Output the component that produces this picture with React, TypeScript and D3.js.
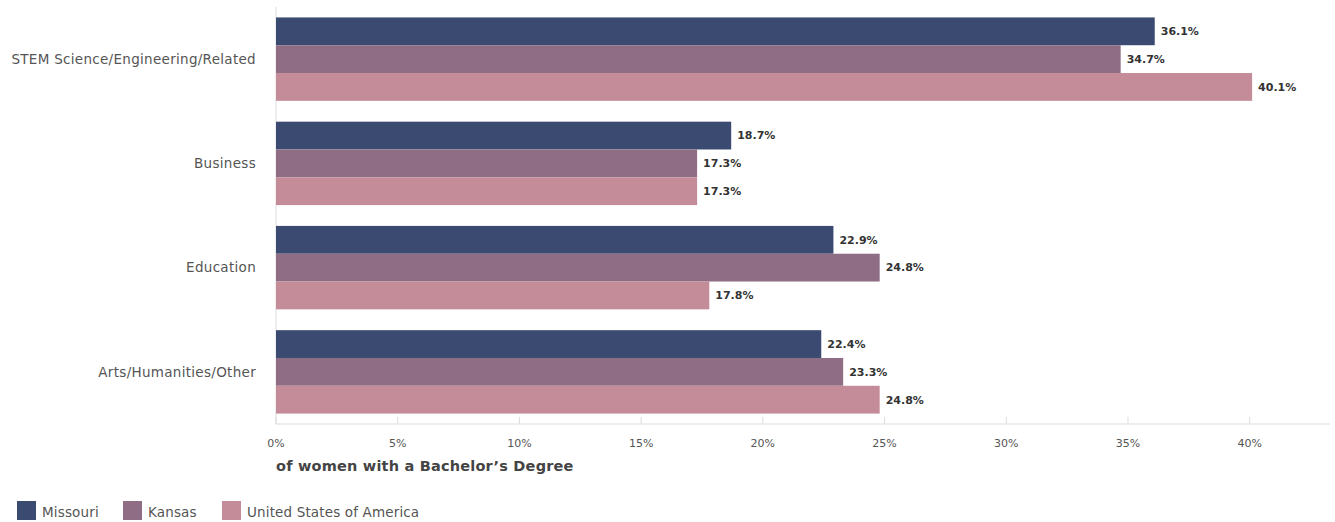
import React, { useEffect, useRef } from "react";
import * as d3 from "d3";

const categories = [
  "STEM Science/Engineering/Related",
  "Business",
  "Education",
  "Arts/Humanities/Other",
];
const seriesNames = ["Missouri", "Kansas", "United States of America"];
const missouri = [36.1, 18.7, 22.9, 22.4];
const kansas = [34.7, 17.3, 24.8, 23.3];
const usa = [40.1, 17.3, 17.8, 24.8];
const xTicks = [0, 5, 10, 15, 20, 25, 30, 35, 40];
const colors = ["#3a4a70", "#8f6d85", "#c48c98"];

const FONT = "'DejaVu Sans', 'Noto Sans', sans-serif";

const App: React.FC = () => {
  const svgRef = useRef<SVGSVGElement>(null);

  useEffect(() => {
    if (!svgRef.current) return;
    const svg = d3.select(svgRef.current);
    svg.selectAll("*").remove();

    const left = 276;
    const right = 1330;
    const top = 7;
    const bottom = 424;

    const x = d3.scaleLinear().domain([0, 43.3]).range([left, right]);
    const y0 = d3
      .scaleBand<string>()
      .domain(categories)
      .range([top, bottom])
      .paddingInner(0.2)
      .paddingOuter(0.1);
    const y1 = d3
      .scaleBand<string>()
      .domain(seriesNames)
      .range([0, y0.bandwidth()]);

    const values = [missouri, kansas, usa];

    // vertical baseline
    svg
      .append("line")
      .attr("x1", left)
      .attr("x2", left)
      .attr("y1", top)
      .attr("y2", bottom)
      .attr("stroke", "#dcdcdc")
      .attr("stroke-width", 1);

    // bars + labels
    categories.forEach((cat, ci) => {
      const g = svg.append("g").attr("transform", `translate(0,${y0(cat)})`);
      seriesNames.forEach((s, si) => {
        const v = values[si][ci];
        g.append("rect")
          .attr("x", x(0))
          .attr("y", y1(s)!)
          .attr("width", x(v) - x(0))
          .attr("height", y1.bandwidth())
          .attr("fill", colors[si]);
        g.append("text")
          .attr("x", x(v) + 6)
          .attr("y", y1(s)! + y1.bandwidth() / 2)
          .attr("dy", "0.35em")
          .attr("font-family", FONT)
          .attr("font-size", 11)
          .attr("font-weight", 700)
          .attr("fill", "#333")
          .text(`${v.toFixed(1)}%`);
      });
      svg
        .append("text")
        .attr("x", 256)
        .attr("y", y0(cat)! + y0.bandwidth() / 2)
        .attr("dy", "0.35em")
        .attr("text-anchor", "end")
        .attr("font-family", FONT)
        .attr("font-size", 13.5)
        .attr("letter-spacing", 0.3)
        .attr("fill", "#555")
        .text(cat);
    });

    // x axis
    const axis = svg.append("g").attr("transform", `translate(0,${bottom})`);
    axis
      .append("line")
      .attr("x1", left)
      .attr("x2", right)
      .attr("stroke", "#dcdcdc")
      .attr("stroke-width", 1);
    xTicks.forEach((t) => {
      axis
        .append("line")
        .attr("x1", x(t))
        .attr("x2", x(t))
        .attr("y1", -7)
        .attr("y2", 0)
        .attr("stroke", "#dcdcdc");
      axis
        .append("text")
        .attr("x", x(t))
        .attr("y", 19)
        .attr("dy", "0.35em")
        .attr("text-anchor", "middle")
        .attr("font-family", FONT)
        .attr("font-size", 11)
        .attr("fill", "#555")
        .text(`${t}%`);
    });
    svg
      .append("text")
      .attr("x", left)
      .attr("y", 466)
      .attr("dy", "0.35em")
      .attr("font-family", FONT)
      .attr("font-size", 14.5)
      .attr("letter-spacing", 0.2)
      .attr("font-weight", 700)
      .attr("fill", "#444")
      .text("of women with a Bachelor\u2019s Degree");

    // legend
    const legendX = [17, 123, 222];
    seriesNames.forEach((s, i) => {
      svg
        .append("rect")
        .attr("x", legendX[i])
        .attr("y", 501)
        .attr("width", 19)
        .attr("height", 19)
        .attr("fill", colors[i]);
      svg
        .append("text")
        .attr("x", legendX[i] + 25)
        .attr("y", 512)
        .attr("dy", "0.35em")
        .attr("font-family", FONT)
        .attr("font-size", 13.5)
        .attr("letter-spacing", 0.15)
        .attr("fill", "#555")
        .text(s);
    });
  }, []);

  return (
    <svg
      ref={svgRef}
      width={1335}
      height={522}
      style={{ position: "absolute", left: 0, top: 0 }}
    ></svg>
  );
};

export default App;
